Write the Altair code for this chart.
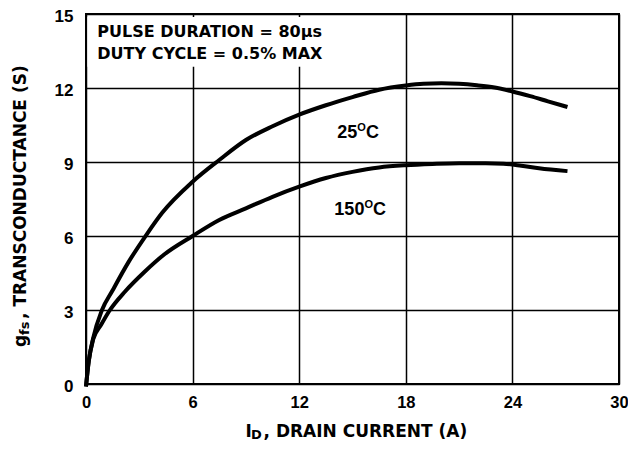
import altair as alt
import pandas as pd

# ---- data ----
id_25 = [0, 0.15, 0.4, 0.9, 1.5, 2.4, 3.4, 4.3, 6.0, 7.5, 9.0, 10.5, 12.0, 13.5,
         15.0, 16.5, 18.0, 19.0, 20.0, 21.0, 22.0, 23.0, 24.0, 25.0, 26.0, 27.1]
gfs_25 = [-0.1, 0.9, 1.85, 3.0, 3.8, 4.95, 6.05, 6.95, 8.2, 9.08, 9.89, 10.45, 10.92, 11.3,
          11.63, 11.93, 12.1, 12.17, 12.19, 12.17, 12.11, 12.02, 11.86, 11.67, 11.46, 11.23]
id_150 = [0, 0.15, 0.4, 0.85, 1.3, 2.2, 3.3, 4.4, 6.0, 7.5, 9.0, 10.5, 12.0, 13.5,
          15.0, 16.5, 18.0, 19.5, 21.0, 22.5, 23.5, 24.5, 25.5, 27.1]
gfs_150 = [-0.1, 0.9, 1.8, 2.4, 2.95, 3.75, 4.55, 5.25, 6.0, 6.65, 7.12, 7.59, 8.0, 8.35,
           8.6, 8.78, 8.87, 8.92, 8.95, 8.95, 8.93, 8.85, 8.75, 8.63]
x_ticks = [0, 6, 12, 18, 24, 30]
y_ticks = [0, 3, 6, 9, 12, 15]
temp_labels = ["25", "150"]
temp_label_x = [15.27, 15.67]
temp_label_y = [9.97, 6.85]
note_lines = ["PULSE DURATION = 80\u00b5s", "DUTY CYCLE = 0.5% MAX"]

FONT = "Liberation Sans"
WIDE = "DejaVu Sans"

df = pd.concat([
    pd.DataFrame({"ID": id_25, "gfs": gfs_25, "T": "25"}),
    pd.DataFrame({"ID": id_150, "gfs": gfs_150, "T": "150"}),
])

x_scale = alt.Scale(domain=[0, 30], nice=False, zero=False)
y_scale = alt.Scale(domain=[0, 15], nice=False, zero=False)
x_axis = alt.Axis(values=x_ticks, title=None, grid=True, ticks=False, domain=False,
                  labelPadding=10, labelFontSize=16.5, labelFont=FONT, labelFontWeight="bold",
                  labelColor="black", gridColor="black", gridWidth=1.5, gridOpacity=1,
                  labelFlush=False)
y_axis = alt.Axis(values=y_ticks, title=None, grid=True, ticks=False, domain=False,
                  labelPadding=13, labelFontSize=17, labelFont=FONT, labelFontWeight="bold",
                  labelColor="black", gridColor="black", gridWidth=1.5, gridOpacity=1,
                  labelFlush=False, labelOffset=2.5)

box = alt.Chart(pd.DataFrame({"x": [0.08], "x2": [13.8], "y": [12.86], "y2": [14.88]})).mark_rect(
    fill="white").encode(
    x=alt.X("x:Q", scale=x_scale, axis=x_axis), x2="x2:Q",
    y=alt.Y("y:Q", scale=y_scale, axis=y_axis), y2="y2:Q")

lines = alt.Chart(df).mark_line(color="black", strokeWidth=4, interpolate="monotone",
                                clip=False).encode(
    x=alt.X("ID:Q", scale=x_scale, axis=x_axis),
    y=alt.Y("gfs:Q", scale=y_scale, axis=y_axis),
    detail="T:N", order="ID:Q")

lbl_df = pd.DataFrame({"ID": temp_label_x, "gfs": temp_label_y, "num": temp_labels})
lbl_base = alt.Chart(lbl_df).encode(x=alt.X("ID:Q", scale=x_scale, axis=x_axis),
                                    y=alt.Y("gfs:Q", scale=y_scale, axis=y_axis))
lbl_num = lbl_base.mark_text(align="right", baseline="alphabetic", font=FONT, fontWeight="bold",
                             fontSize=18, color="black").encode(text="num:N")
lbl_o = lbl_base.mark_text(align="left", baseline="alphabetic", font=FONT, fontWeight="bold",
                           fontSize=11, color="black", dy=-7, text="O")
lbl_c = lbl_base.mark_text(align="left", baseline="alphabetic", font=FONT, fontWeight="bold",
                           fontSize=18, color="black", dx=8.6, text="C")


def ptext(txt, x, y, size, angle=0, font=WIDE):
    d = pd.DataFrame({"t": [txt]})
    return alt.Chart(d).mark_text(align="left", baseline="alphabetic", font=font,
                                  fontWeight="bold", fontSize=size, color="black",
                                  angle=angle).encode(
        x=alt.value(x), y=alt.value(y), text="t:N")


note1 = ptext(note_lines[0], 11.3, 23.3, 16)
note2 = ptext(note_lines[1], 11.3, 45.3, 16)

# x axis title: I_D, DRAIN CURRENT (A)
xt1 = ptext("I", 159.5, 423.3, 17)
xt2 = ptext("D", 165.0, 425.3, 13)
xt3 = ptext(", DRAIN CURRENT (A)", 177.5, 423.3, 17)

# y axis title: g_fs, TRANSCONDUCTANCE (S)
yt1 = ptext("g", -60.5, 333, 17, angle=270)
yt2 = ptext("fs", -57.5, 321, 13, angle=270)
yt3 = ptext(", TRANSCONDUCTANCE (S)", -60.5, 305, 17, angle=270)

chart = alt.layer(box, lines, lbl_num, lbl_o, lbl_c, note1, note2,
                  xt1, xt2, xt3, yt1, yt2, yt3).properties(
    width=533, height=370,
    autosize=alt.AutoSizeParams(type="none"),
    padding={"left": 78, "top": 6, "right": 9, "bottom": 57},
    background="white",
).configure_view(stroke="black", strokeWidth=2)

chart.save("out.html", embed_options={"renderer": "svg", "actions": False})
